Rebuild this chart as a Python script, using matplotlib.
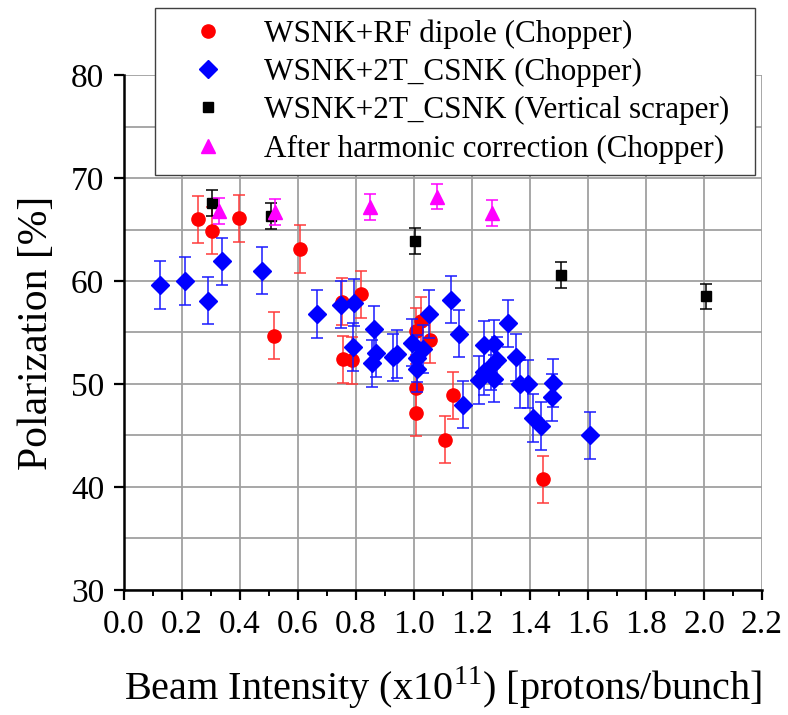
import numpy as np
import matplotlib
matplotlib.use("Agg")
import matplotlib.pyplot as plt
from matplotlib.ticker import MultipleLocator

plt.rcParams["font.family"] = ["Liberation Serif", "DejaVu Serif"]
plt.rcParams["mathtext.fontset"] = "custom"
plt.rcParams["mathtext.rm"] = "Liberation Serif"

# WSNK+RF dipole (Chopper)
rf_x = [0.256, 0.306, 0.397, 0.607, 0.517, 0.754, 0.817, 0.756, 0.787,
        1.007, 1.026, 1.055, 1.007, 1.007, 1.136, 1.107, 1.446]
rf_y = [66.0, 64.9, 66.1, 63.1, 54.7, 58.0, 58.7, 52.4, 52.3,
        55.1, 56.1, 54.3, 49.6, 47.2, 48.9, 44.6, 40.75]
rf_err = [2.3] * len(rf_x)

# WSNK+2T_CSNK (Chopper)
cs_x = [0.124, 0.210, 0.289, 0.340, 0.477, 0.667, 0.750, 0.793, 0.791, 0.863,
        0.871, 0.857, 0.929, 0.943, 0.995, 1.030, 1.011, 1.011, 1.053, 1.127,
        1.155, 1.168, 1.225, 1.242, 1.266, 1.285, 1.277, 1.241, 1.276, 1.325,
        1.351, 1.366, 1.392, 1.411, 1.438, 1.480, 1.477, 1.607]
cs_y = [59.6, 60.0, 58.1, 61.9, 61.0, 56.8, 57.7, 57.9, 53.6, 55.3,
        53.0, 52.0, 52.6, 52.9, 54.0, 53.4, 52.5, 51.5, 56.8, 58.2,
        54.9, 48.0, 50.4, 51.2, 51.7, 52.3, 50.5, 53.8, 53.9, 55.9,
        52.6, 50.0, 50.0, 46.7, 45.9, 50.1, 48.7, 45.0]
cs_err = [2.3] * len(cs_x)

# WSNK+2T_CSNK (Vertical scraper)
vs_x = [0.306, 0.506, 1.003, 1.507, 2.007]
vs_y = [67.6, 66.3, 63.9, 60.6, 58.5]
vs_err = [1.25] * len(vs_x)

# After harmonic correction (Chopper)
hc_x = [0.328, 0.521, 0.848, 1.080, 1.268]
hc_y = [66.8, 66.7, 67.2, 68.2, 66.6]
hc_err = [1.25] * len(hc_x)

labels = ["WSNK+RF dipole (Chopper)", "WSNK+2T_CSNK (Chopper)",
          "WSNK+2T_CSNK (Vertical scraper)", "After harmonic correction (Chopper)"]

fig = plt.figure(figsize=(7.88, 7.15), dpi=100)
ax = fig.add_axes([0.157, 0.175, 0.81, 0.72])

h1 = ax.errorbar(rf_x, rf_y, yerr=rf_err, fmt="o", color="#ff0000", ecolor="#ff3a3a",
                 ms=9.5, capsize=4, elinewidth=1.1, capthick=1.1, zorder=3)
h2 = ax.errorbar(cs_x, cs_y, yerr=cs_err, fmt="D", color="#0000ff", ecolor="#1a1aff",
                 ms=9.5, capsize=4, elinewidth=1.1, capthick=1.1, zorder=4)
h3 = ax.errorbar(vs_x, vs_y, yerr=vs_err, fmt="s", color="black", ecolor="black",
                 ms=7.5, capsize=4, elinewidth=1.1, capthick=1.1, zorder=5)
h4 = ax.errorbar(hc_x, hc_y, yerr=hc_err, fmt="^", color="#ff00ff", ecolor="#ff00ff",
                 ms=10, capsize=4, elinewidth=1.1, capthick=1.1, zorder=6)

ax.set_xlim(0, 2.2)
ax.set_ylim(30, 80)
ax.xaxis.set_major_locator(MultipleLocator(0.2))
ax.xaxis.set_minor_locator(MultipleLocator(0.1))
ax.yaxis.set_major_locator(MultipleLocator(10))
ax.yaxis.set_minor_locator(MultipleLocator(5))
ax.xaxis.set_major_formatter(plt.FormatStrFormatter("%.1f"))

ax.grid(True, which="major", axis="x", color="#a0a0a0", lw=1.3, zorder=0)
ax.grid(True, which="both", axis="y", color="#a0a0a0", lw=1.3, zorder=0)
ax.set_axisbelow(True)

for s in ["top", "right"]:
    ax.spines[s].set_visible(False)
for s in ["left", "bottom"]:
    ax.spines[s].set_linewidth(1.8)

ax.tick_params(axis="both", which="major", direction="out", length=7, width=1.6,
               labelsize=24, pad=7)
ax.tick_params(axis="x", which="minor", direction="out", length=4, width=1.4)
ax.tick_params(axis="y", which="minor", length=0)

ax.set_xlabel(r"Beam Intensity (x10$^{11}$) [protons/bunch]", fontsize=29, labelpad=18)
ax.set_ylabel("Polarization [%]", fontsize=30, labelpad=11)

leg = ax.legend([h1[0], h2[0], h3[0], h4[0]], labels, loc="upper left",
                bbox_to_anchor=(0.0486, 0.80, 0.941, 0.330), mode="expand",
                fontsize=22.4, frameon=True,
                fancybox=False, edgecolor="#404040", framealpha=1,
                handletextpad=0.45, borderpad=0.35, labelspacing=0.3,
                handlelength=2.7, markerscale=1.0, borderaxespad=0)
leg.get_frame().set_linewidth(1.0)
leg.set_zorder(10)

plt.savefig("out.png", dpi=100)
